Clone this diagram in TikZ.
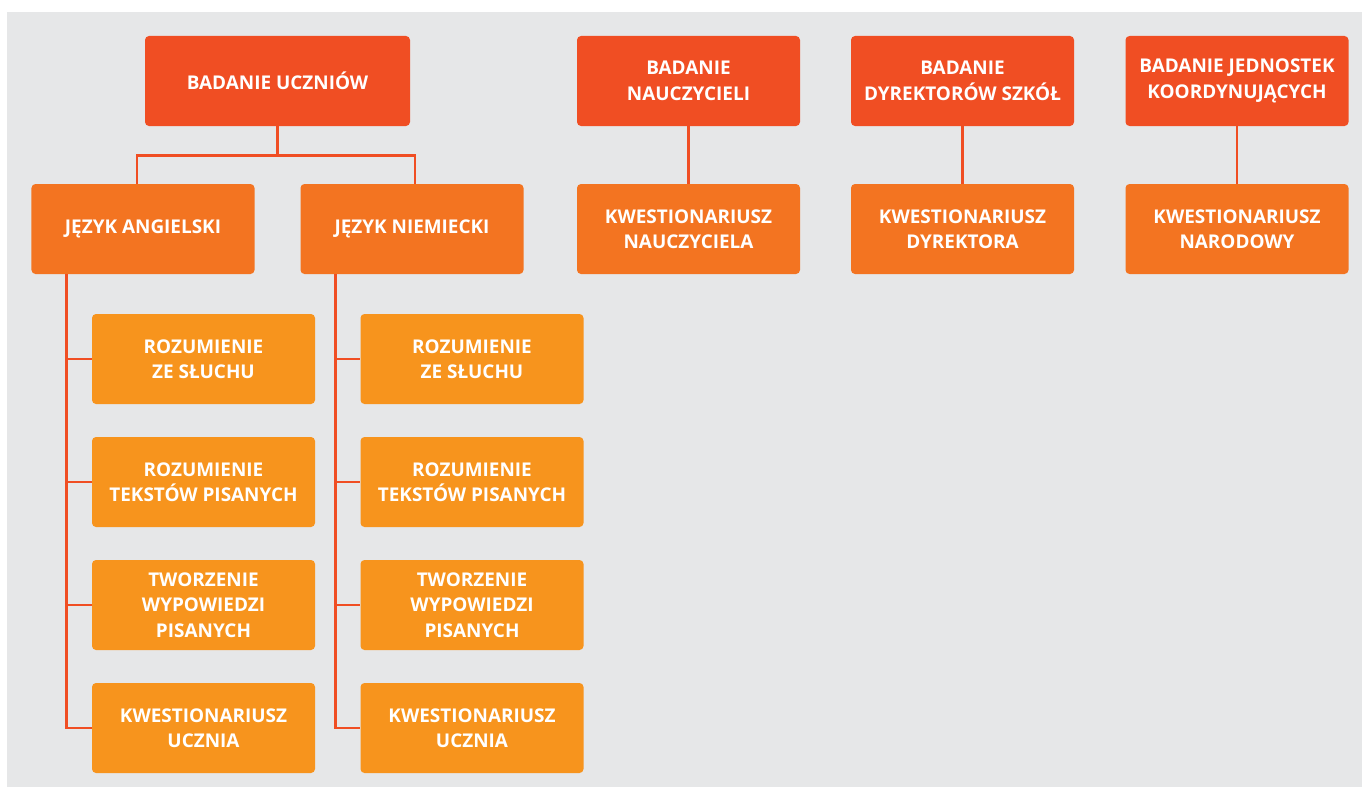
\documentclass[tikz,border=0pt]{standalone}
\usepackage{fontspec}
\setmainfont{Open Sans}
\definecolor{topred}{HTML}{F04E23}
\definecolor{midorange}{HTML}{F37421}
\definecolor{loworange}{HTML}{F7941D}
\definecolor{backgray}{HTML}{E6E7E8}
\tikzset{
    box/.style={rectangle,rounded corners=4bp,minimum width=223bp,minimum height=90bp,
        inner sep=0pt,text=white,align=center,
        font=\fontsize{19}{25.5}\selectfont\bfseries},
    link/.style={draw=topred,line width=2.6bp}
}
\begin{document}
\begin{tikzpicture}[x=1bp,y=-1bp]
        \useasboundingbox (0,0) rectangle (1362,787);
        \fill[backgray] (7,12) rectangle (1362,787);
        \begin{scope}[every node/.style={box,fill=topred}]
            \node[minimum width=265bp] (1) at (277.5,81) {BADANIE UCZNIÓW};
            \node (4) at (688.5,81) {BADANIE\\NAUCZYCIELI};
            \node (5) at (962.5,81) {BADANIE\\DYREKTORÓW SZKÓŁ};
            \node (6) at (1237,81) {BADANIE JEDNOSTEK\\KOORDYNUJĄCYCH};
        \end{scope}
        \begin{scope}[every node/.style={box,fill=midorange}]
            \node (2) at (143,229) {JĘZYK ANGIELSKI};
            \node (3) at (412,229) {JĘZYK NIEMIECKI};
            \node (7) at (688.5,229) {KWESTIONARIUSZ\\NAUCZYCIELA};
            \node (8) at (962.5,229) {KWESTIONARIUSZ\\DYREKTORA};
            \node (9) at (1237,229) {KWESTIONARIUSZ\\NARODOWY};
        \end{scope}
        \begin{scope}[every node/.style={box,fill=loworange}]
            \node (10) at (203.5,359) {ROZUMIENIE\\ZE SŁUCHU};
            \node (11) at (203.5,482) {ROZUMIENIE\\TEKSTÓW PISANYCH};
            \node (12) at (203.5,605) {TWORZENIE\\WYPOWIEDZI\\PISANYCH};
            \node (13) at (203.5,728) {KWESTIONARIUSZ\\UCZNIA};
            \node (14) at (472,359) {ROZUMIENIE\\ZE SŁUCHU};
            \node (15) at (472,482) {ROZUMIENIE\\TEKSTÓW PISANYCH};
            \node (16) at (472,605) {TWORZENIE\\WYPOWIEDZI\\PISANYCH};
            \node (17) at (472,728) {KWESTIONARIUSZ\\UCZNIA};
        \end{scope}
        \begin{scope}[every path/.style={link}]
            \coordinate (fork) at ([yshift=-29bp]1.south);
            \path
                (1) edge (fork);
            \draw ([xshift=-6bp]2.north) |- (fork) -| ([xshift=3bp]3.north);
            \path
                (4) edge (7)
                (5) edge (8)
                (6) edge (9);
            \draw ([xshift=35bp]2.south west) |- (13.west);
            \path
                ([xshift=35bp]2.south west |- 10.west) edge (10.west)
                ([xshift=35bp]2.south west |- 11.west) edge (11.west)
                ([xshift=35bp]2.south west |- 12.west) edge (12.west);
            \draw ([xshift=35bp]3.south west) |- (17.west);
            \path
                ([xshift=35bp]3.south west |- 14.west) edge (14.west)
                ([xshift=35bp]3.south west |- 15.west) edge (15.west)
                ([xshift=35bp]3.south west |- 16.west) edge (16.west);
        \end{scope}
    \end{tikzpicture}
\end{document}
